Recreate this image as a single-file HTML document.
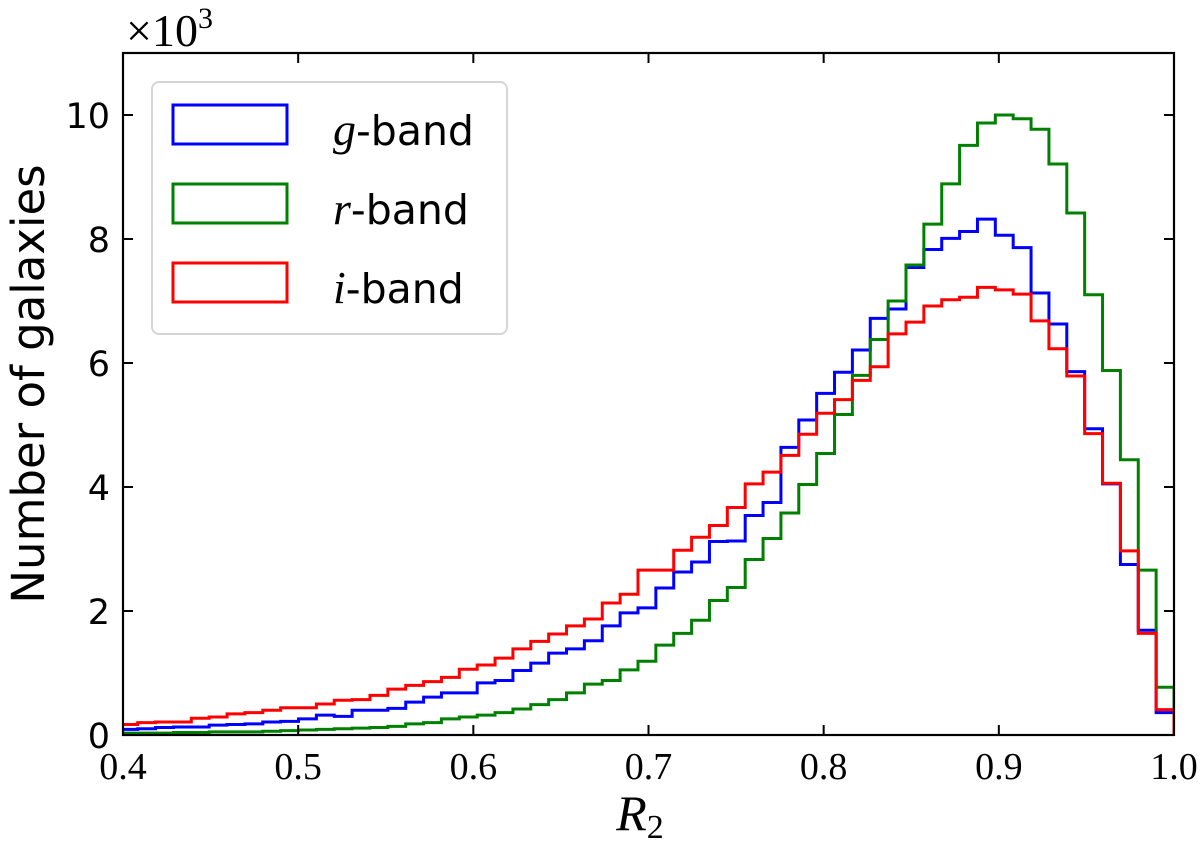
<!DOCTYPE html>
<html><head><meta charset="utf-8"><style>body{margin:0;background:#fff}svg{display:block}</style></head>
<body>
<svg id="chart" width="1200" height="843" viewBox="0 0 1200 843" xmlns="http://www.w3.org/2000/svg">
<defs><clipPath id="clip"><rect x="123" y="53" width="1051" height="682"/></clipPath></defs>
<rect x="0" y="0" width="1200" height="843" fill="#fff"/>
<g id="bars" clip-path="url(#clip)"></g>
<rect x="123" y="53" width="1051" height="682" fill="none" stroke="#000" stroke-width="2.2"/>
<g id="ticks"></g>
<text x="126" y="46" font-family="Liberation Serif, serif" font-size="46">×10<tspan font-size="30" dy="-18">3</tspan></text>
<text transform="translate(44,384) rotate(-90)" text-anchor="middle" font-family="DejaVu Sans, sans-serif" font-size="45">Number of galaxies</text>
<text x="640" y="830" text-anchor="middle" font-family="Liberation Serif, serif" font-style="italic" font-size="50">R<tspan font-style="normal" font-size="34" dy="8">2</tspan></text>
<g>
<rect x="152" y="82" width="355" height="252" rx="7" fill="#fff" fill-opacity="0.8" stroke="#d5d5d5" stroke-width="2"/>
<rect x="173" y="105" width="114" height="39" fill="none" stroke="#0000ff" stroke-width="3"/>
<rect x="173" y="184" width="114" height="39" fill="none" stroke="#008000" stroke-width="3"/>
<rect x="173" y="263" width="114" height="39" fill="none" stroke="#ff0000" stroke-width="3"/>
<text x="333" y="145" font-family="DejaVu Sans, sans-serif" font-size="41"><tspan font-family="Liberation Serif, serif" font-style="italic" font-size="46">g</tspan>-band</text>
<text x="333" y="224" font-family="DejaVu Sans, sans-serif" font-size="41"><tspan font-family="Liberation Serif, serif" font-style="italic" font-size="46">r</tspan>-band</text>
<text x="333" y="303" font-family="DejaVu Sans, sans-serif" font-size="41"><tspan font-family="Liberation Serif, serif" font-style="italic" font-size="46">i</tspan>-band</text>
</g>
</svg>
<script>
const binWidth = 0.0102;
const binEnd = 1.0;
const gBand = [0.09,0.10,0.12,0.13,0.13,0.16,0.17,0.18,0.21,0.22,0.26,0.32,0.30,0.40,0.40,0.43,0.53,0.61,0.68,0.68,0.84,0.88,1.04,1.16,1.32,1.39,1.52,1.76,1.97,2.05,2.37,2.63,2.79,3.12,3.13,3.54,3.75,4.64,5.08,5.51,5.85,6.21,6.72,6.87,7.54,7.83,8.01,8.12,8.32,8.06,7.86,7.13,6.63,5.86,4.94,4.05,2.75,1.69,0.36];
const rBand = [0.03,0.03,0.03,0.04,0.04,0.05,0.05,0.05,0.06,0.07,0.08,0.09,0.10,0.11,0.12,0.14,0.18,0.20,0.26,0.29,0.32,0.36,0.42,0.49,0.57,0.68,0.82,0.88,1.05,1.19,1.45,1.64,1.85,2.17,2.38,2.83,3.17,3.58,4.04,4.54,5.17,5.80,6.38,7.00,7.58,8.24,8.89,9.51,9.87,10.00,9.94,9.77,9.21,8.42,7.10,5.88,4.44,2.66,0.77];
const iBand = [0.17,0.20,0.21,0.21,0.27,0.29,0.34,0.36,0.40,0.44,0.44,0.50,0.56,0.57,0.64,0.74,0.80,0.86,0.93,1.06,1.13,1.24,1.39,1.51,1.63,1.76,1.87,2.13,2.27,2.66,2.66,2.98,3.19,3.38,3.67,4.05,4.24,4.51,4.85,5.19,5.41,5.72,5.94,6.47,6.66,6.92,7.02,7.06,7.22,7.18,7.11,6.68,6.23,5.79,4.86,4.06,2.97,1.64,0.41];
const xTicks = [0.4,0.5,0.6,0.7,0.8,0.9,1.0];
const xTickLabels = ["0.4","0.5","0.6","0.7","0.8","0.9","1.0"];
const yTicks = [0,2,4,6,8,10];
const yTickLabels = ["0","2","4","6","8","10"];

const X0=123,X1=1174,Y0=735,Y1=53;
function sx(v){return X0+(v-0.4)/(1.0-0.4)*(X1-X0);}
function sy(v){return Y0-(v/11)*(Y0-Y1);}
const NS='http://www.w3.org/2000/svg';
const bars=document.getElementById('bars');
function drawSeries(vals,color,name){
  const n=vals.length;let d='';
  for(let i=0;i<n;i++){
    const k=n-1-i;
    const l=sx(binEnd-(k+1)*binWidth), r=sx(binEnd-k*binWidth), y=sy(vals[i]);
    if(i===0) d+='M'+l+','+sy(0)+' L'+l+','+y; else d+=' L'+l+','+y;
    d+=' L'+r+','+y;
    if(i===n-1) d+=' L'+r+','+sy(0);
  }
  const p=document.createElementNS(NS,'path');
  p.setAttribute('d',d);p.setAttribute('fill','none');p.setAttribute('stroke',color);p.setAttribute('stroke-width','3');
  
  
  bars.appendChild(p);
}
drawSeries(gBand,'#0000ff','g-band-histogram');
drawSeries(rBand,'#008000','r-band-histogram');
drawSeries(iBand,'#ff0000','i-band-histogram');
const tg=document.getElementById('ticks');
xTicks.forEach((v,i)=>{
  const x=sx(v);
  const t=document.createElementNS(NS,'path');
  t.setAttribute('d','M'+x+','+Y0+' V'+(Y0-10)+' M'+x+','+Y1+' V'+(Y1+10));
  t.setAttribute('stroke','#000');t.setAttribute('stroke-width','2');
  
  
  tg.appendChild(t);
  const s=document.createElementNS(NS,'text');
  s.setAttribute('x',x);s.setAttribute('y',779);s.setAttribute('text-anchor','middle');
  s.setAttribute('font-family','Liberation Serif, serif');s.setAttribute('font-size','38');
  s.textContent=xTickLabels[i];
  
  
  tg.appendChild(s);
});
yTicks.forEach((v,i)=>{
  const y=sy(v);
  const t=document.createElementNS(NS,'path');
  t.setAttribute('d','M'+X0+','+y+' H'+(X0+10)+' M'+X1+','+y+' H'+(X1-10));
  t.setAttribute('stroke','#000');t.setAttribute('stroke-width','2');
  
  
  tg.appendChild(t);
  const s=document.createElementNS(NS,'text');
  s.setAttribute('x',110);s.setAttribute('y',y+13);s.setAttribute('text-anchor','end');
  s.setAttribute('font-family','DejaVu Sans, sans-serif');s.setAttribute('font-size','35');
  s.textContent=yTickLabels[i];
  
  
  tg.appendChild(s);
});
</script>
</body></html>
